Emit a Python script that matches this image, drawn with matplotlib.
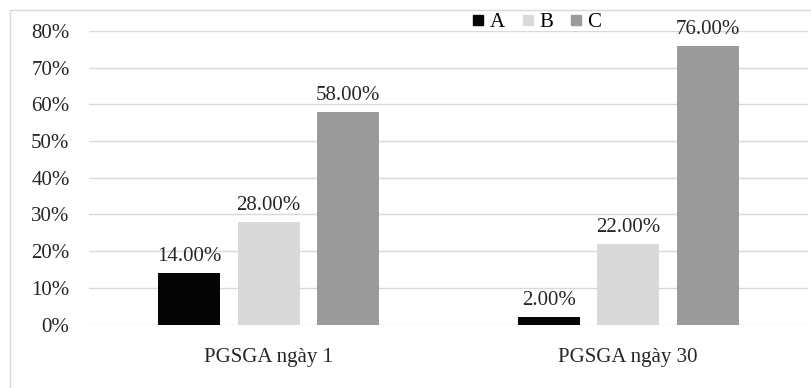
import matplotlib
matplotlib.use("Agg")
import matplotlib.pyplot as plt
from matplotlib.lines import Line2D
from matplotlib.ticker import FuncFormatter
import numpy as np

categories = ["PGSGA ngày 1", "PGSGA ngày 30"]
series_names = ["A", "B", "C"]
values_A = [0.14, 0.02]
values_B = [0.28, 0.22]
values_C = [0.58, 0.76]
colors = ["#050505", "#d9d9d9", "#9b9b9b"]

plt.rcParams['font.family'] = ['Liberation Serif', 'DejaVu Serif']
FS = 15

W, H = 812, 388
fig = plt.figure(figsize=(W / 100, H / 100), dpi=100)
ax = fig.add_axes([89 / W, 1 - 324.5 / H, (808 - 89) / W, (324.5 - 31) / H])

x = np.arange(len(categories))
width = 62 / 359
step = 79.5 / 359
all_vals = [values_A, values_B, values_C]
for i, (vals, c) in enumerate(zip(all_vals, colors)):
    pos = x + (i - 1) * step
    ax.bar(pos, vals, width=width, color=c, zorder=3)
    for px, v in zip(pos, vals):
        ax.annotate(f"{v*100:.2f}%", (px, v), xytext=(0, 5), textcoords="offset points",
                    ha="center", va="bottom", fontsize=FS, color="#262626")

ax.set_xlim(-0.5, 1.5)
ax.set_ylim(0, 0.8)
ax.set_yticks(np.arange(0, 0.81, 0.1))
ax.yaxis.set_major_formatter(FuncFormatter(lambda v, p: f"{v*100:.0f}%"))
ax.set_xticks(x)
ax.set_xticklabels(categories)
ax.tick_params(axis="both", length=0, labelsize=FS, colors="#262626")
ax.tick_params(axis="y", pad=14)
ax.tick_params(axis="x", pad=17)
ax.grid(axis="y", color="#d9d9d9", linewidth=1.0, zorder=0)
for s in ax.spines.values():
    s.set_visible(False)
ax.set_facecolor("none")

handles = [Line2D([], [], linestyle="none", marker="s", markersize=7.2,
                  markerfacecolor=c, markeredgecolor=c) for c in colors]
fig.legend(handles, series_names, loc="center", bbox_to_anchor=(537 / W, 1 - 22 / H),
           ncol=3, frameon=False, fontsize=FS, handlelength=0.5, handletextpad=0.3,
           columnspacing=0.85, borderpad=0, borderaxespad=0)

# chart border
fig.add_artist(Line2D([10 / W, 1.0], [1 - 10 / H, 1 - 10 / H], color="#d9d9d9", lw=1.0,
                      transform=fig.transFigure))
fig.add_artist(Line2D([10 / W, 10 / W], [0, 1 - 10 / H], color="#d9d9d9", lw=1.0,
                      transform=fig.transFigure))

fig.savefig("out.png", dpi=100)
